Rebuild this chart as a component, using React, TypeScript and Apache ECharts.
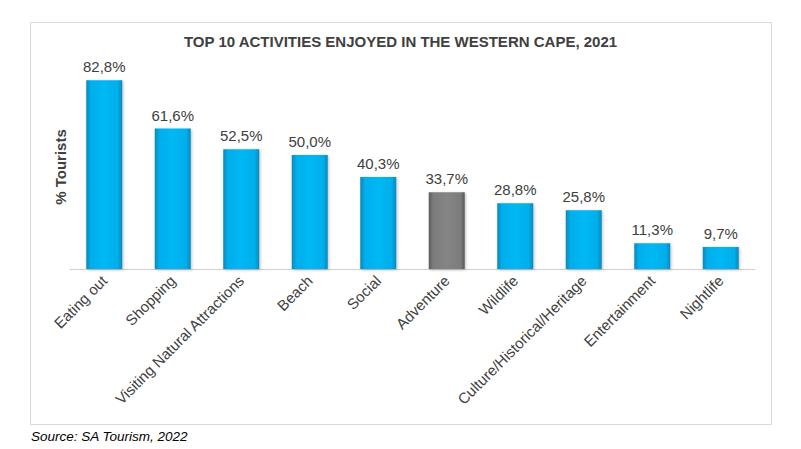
import React, { useEffect, useRef } from "react";
import * as echarts from "echarts";

const categories = [
  "Eating out",
  "Shopping",
  "Visiting Natural Attractions",
  "Beach",
  "Social",
  "Adventure",
  "Wildlife",
  "Culture/Historical/Heritage",
  "Entertainment",
  "Nightlife",
];
const values = [82.8, 61.6, 52.5, 50.0, 40.3, 33.7, 28.8, 25.8, 11.3, 9.7];
const highlighted = ["Adventure"];

const FONT = "'Liberation Sans', Arial, sans-serif";

export default function App() {
  const ref = useRef<HTMLDivElement>(null);
  useEffect(() => {
    document.body.style.margin = "0";
    const chart = echarts.init(ref.current!, undefined, { renderer: "svg" });
    const blue = new echarts.graphic.LinearGradient(0, 0, 1, 0, [
      { offset: 0, color: "#0a86b8" },
      { offset: 0.12, color: "#02aeea" },
      { offset: 0.5, color: "#05b8f5" },
      { offset: 0.88, color: "#02aeea" },
      { offset: 1, color: "#0a86b8" },
    ]);
    const grey = new echarts.graphic.LinearGradient(0, 0, 1, 0, [
      { offset: 0, color: "#5a5a5a" },
      { offset: 0.12, color: "#7c7c7c" },
      { offset: 0.5, color: "#858585" },
      { offset: 0.88, color: "#7c7c7c" },
      { offset: 1, color: "#5a5a5a" },
    ]);
    chart.setOption({
      animation: false,
      title: {
        text: "TOP 10 ACTIVITIES ENJOYED IN THE WESTERN CAPE, 2021",
        left: "center",
        top: 29,
        textStyle: { fontFamily: FONT, fontSize: 15, fontWeight: "bold", color: "#404040" },
      },
      graphic: [
        {
          type: "rect",
          shape: { x: 30.5, y: 22.5, width: 741, height: 402 },
          style: { fill: "none", stroke: "#d9d9d9", lineWidth: 1 },
          z: -1,
        },
        {
          type: "text",
          x: 31,
          y: 436,
          style: {
            text: "Source: SA Tourism, 2022",
            font: `italic 13.5px ${FONT}`,
            fill: "#000000",
            textVerticalAlign: "middle",
          },
        },
        {
          type: "text",
          x: 60,
          y: 167,
          rotation: Math.PI / 2,
          style: {
            text: "% Tourists",
            font: `bold 15px ${FONT}`,
            fill: "#404040",
            textAlign: "center",
            textVerticalAlign: "middle",
          },
        },
      ],
      grid: { left: 70, right: 46, top: 41, bottom: 180, containLabel: false },
      xAxis: {
        type: "category",
        data: categories,
        axisLine: { lineStyle: { color: "#d0d0d0", width: 1 } },
        axisTick: { show: false },
        axisLabel: {
          interval: 0,
          rotate: 45,
          margin: 9,
          fontFamily: FONT,
          fontSize: 15,
          color: "#404040",
        },
      },
      yAxis: {
        type: "value",
        min: 0,
        max: 100,
        show: false,
        splitLine: { show: false },
      },
      series: [
        {
          type: "bar",
          barWidth: 36,
          data: values.map((v, i) => ({
            value: v,
            itemStyle: {
              color: highlighted.includes(categories[i]) ? grey : blue,
              shadowColor: "rgba(0,0,0,0.25)",
              shadowBlur: 3,
              shadowOffsetX: 1,
              shadowOffsetY: 1,
            },
          })),
          label: {
            show: true,
            position: "top",
            distance: 6,
            fontFamily: FONT,
            fontSize: 15,
            color: "#404040",
            formatter: (p: any) => p.value.toFixed(1).replace(".", ",") + "%",
          },
        },
      ],
    });
    return () => chart.dispose();
  }, []);
  return <div ref={ref} style={{ width: 801, height: 449 }} />;
}
